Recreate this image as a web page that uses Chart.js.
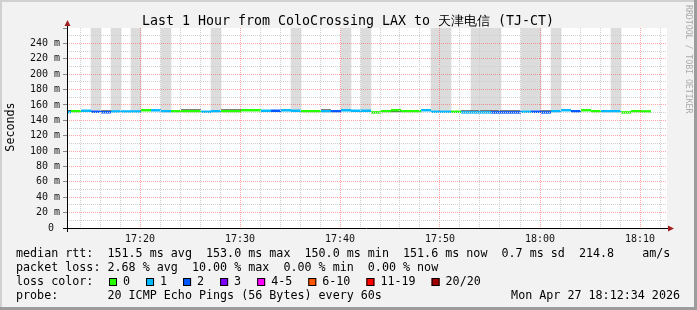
<!DOCTYPE html>
<html lang="en">
<head>
    <meta charset="UTF-8">
    <title>SmokePing - Last 1 Hour</title>
    <script src="https://cdn.jsdelivr.net/npm/chart.js"></script>
    <style>
        html, body { margin: 0; padding: 0; background: #f2f2f2; }
        .chart-container { width: 697px; height: 310px; }
    </style>
</head>
<body>
<div class="chart-container">
    <canvas id="myChart" width="697" height="310"></canvas>
</div>
<script>
    // one slot per probe round (60 s), x values are minutes after 17:00
    const firstSlot = 12.1;
    const xMin = 12.7, xMax = 72.7;

    // loss bucket index per slot (0 = 0/20, 1 = 1/20, 2 = 2/20)
    const lossLevel = [1,0,1,2,2,1,1,1,0,1, 1,0,0,0,1,1,0,0,0,0,
                       1,2,1,1,0,0,1,2,1,1, 1,0,0,0,0,0,1,1,1,0,
                       1,1,1,2,2,2,1,2,2,1, 1,2,0,0,1,1,0,0,0];
    // median rtt per slot, ms
    const medianMs = [150.7,151.8,152.4,151.1,150.5,151.5,151.5,151.5,153.1,153.0,
                      151.8,151.8,151.8,151.8,151.1,151.8,151.8,151.8,153.1,153.1,
                      152.4,152.4,153.0,152.4,151.8,151.8,151.8,151.8,153.0,152.4,
                      152.4,150.3,151.8,153.1,151.8,151.8,153.1,151.1,151.1,151.1,
                      150.3,150.3,150.3,150.3,150.3,150.3,151.1,151.1,150.3,151.8,
                      153.1,151.8,153.1,151.8,151.8,151.8,150.3,151.8,151.6];
    // slowest ping per slot where the smoke runs off the top (ms), else null
    const smokeMaxMs = [null,null,null,300,null,300,null,300,null,null,
                        300,null,null,null,null,300,null,null,null,null,
                        null,null,null,300,null,null,null,null,300,null,
                        300,null,null,null,null,null,null,300,300,null,
                        null,300,300,300,null,null,300,300,null,300,
                        null,null,null,null,null,300,null,null,null];
    // dense smoke band next to the median (ms), else null
    const denseMs = [152.6,null,null,null,152.4,null,null,null,null,null,
                     null,null,153.7,153.7,null,null,153.7,153.7,null,null,
                     null,null,null,null,null,null,153.7,null,null,null,
                     null,null,null,151.2,null,null,null,null,null,null,
                     152.2,152.2,152.2,152.2,152.2,152.2,null,null,152.2,null,
                     null,null,null,null,null,null,null,null,null];

    const lossLabels = ['0', '1', '2', '3', '4-5', '6-10', '11-19', '20/20'];
    const lossColors = ['#26ff00', '#00b8ff', '#0059ff', '#7e00ff', '#ff00fe', '#ff5500', '#ff0000', '#a10000'];

    const titleText = 'Last 1 Hour from ColoCrossing LAX to 天津电信 (TJ-CT)';
    const legendRows = [
        'median rtt:  151.5 ms avg  153.0 ms max  150.0 ms min  151.6 ms now  0.7 ms sd  214.8    am/s',
        'packet loss: 2.68 % avg  10.00 % max  0.00 % min  0.00 % now',
        'loss color:',
        'probe:       20 ICMP Echo Pings (56 Bytes) every 60s'
    ];
    const dateText = 'Mon Apr 27 18:12:34 2026';

    const mono = "'DejaVu Sans Mono', monospace";
    const majorGrid = 'rgba(255,0,0,0.35)';
    const minorGrid = '#cfcfcf';

    function slotSegments(values) {
        const pts = [];
        values.forEach((v, i) => {
            if (v === null) return;
            const t = firstSlot + i;
            pts.push({x: t, y: v}, {x: t + 1, y: v}, {x: t + 1, y: null});
        });
        return pts;
    }

    function fmtTime(m) {
        const h = 17 + Math.floor(m / 60);
        const mm = m % 60;
        return h + ':' + (mm < 10 ? '0' : '') + mm;
    }

    const smokeBars = smokeMaxMs
        .map((v, i) => v === null ? null : {x: firstSlot + i + 0.5, y: [medianMs[i], v]})
        .filter(Boolean);

    const frame = {
        id: 'frame',
        beforeDraw(chart) {
            const {ctx, chartArea: a} = chart;
            ctx.save();
            ctx.fillStyle = '#f2f2f2';
            ctx.fillRect(0, 0, chart.width, chart.height);
            ctx.fillStyle = '#ffffff';
            ctx.fillRect(a.left, a.top, a.right - a.left, a.bottom - a.top);
            ctx.restore();
        },
        afterDraw(chart) {
            const {ctx, chartArea: a} = chart;
            const W = chart.width, H = chart.height;
            ctx.save();
            // outer frame
            ctx.fillStyle = '#d0d0d0';
            ctx.fillRect(0, 0, W, 2);
            ctx.fillRect(0, 0, 2, H);
            ctx.fillStyle = '#9c9c9c';
            ctx.fillRect(0, H - 3, W, 3);
            ctx.fillRect(W - 3, 0, 3, H);

            // axes with arrows
            ctx.strokeStyle = '#000';
            ctx.lineWidth = 1;
            ctx.beginPath();
            ctx.moveTo(a.left - 4, a.bottom + 0.5);
            ctx.lineTo(a.right + 3, a.bottom + 0.5);
            ctx.moveTo(a.left + 0.5, a.bottom + 4);
            ctx.lineTo(a.left + 0.5, a.top - 4);
            ctx.stroke();
            ctx.fillStyle = '#a02020';
            ctx.beginPath();
            ctx.moveTo(a.left + 0.5, a.top - 8);
            ctx.lineTo(a.left - 2.5, a.top - 2);
            ctx.lineTo(a.left + 3.5, a.top - 2);
            ctx.fill();
            ctx.beginPath();
            ctx.moveTo(a.right + 7, a.bottom + 0.5);
            ctx.lineTo(a.right + 1, a.bottom - 2.5);
            ctx.lineTo(a.right + 1, a.bottom + 3.5);
            ctx.fill();

            // title
            ctx.fillStyle = '#000';
            ctx.font = '13.3px ' + mono;
            ctx.textAlign = 'center';
            ctx.textBaseline = 'alphabetic';
            ctx.fillText(titleText, 348, 25);

            // y axis title
            ctx.font = '11.7px ' + mono;
            ctx.save();
            ctx.translate(11, 127);
            ctx.rotate(-Math.PI / 2);
            ctx.textAlign = 'center';
            ctx.textBaseline = 'middle';
            ctx.fillText('Seconds', 0, 0);
            ctx.restore();

            // rrdtool credit
            ctx.save();
            ctx.translate(688, 5);
            ctx.rotate(Math.PI / 2);
            ctx.font = '8.2px ' + mono;
            ctx.fillStyle = '#ababab';
            ctx.textAlign = 'left';
            ctx.textBaseline = 'middle';
            ctx.fillText('RRDTOOL / TOBI OETIKER', 0, 0);
            ctx.restore();

            // legend rows
            ctx.font = '11.7px ' + mono;
            ctx.textAlign = 'left';
            ctx.textBaseline = 'middle';
            const rowY = [254, 268, 282, 296];
            legendRows.forEach((row, i) => ctx.fillText(row, 16, rowY[i]));
            ctx.textAlign = 'right';
            ctx.fillText(dateText, 680, rowY[3]);

            // loss colour boxes
            ctx.textAlign = 'left';
            const cw = ctx.measureText('0').width;
            let x = 109;
            lossLabels.forEach((lab, i) => {
                ctx.fillStyle = lossColors[i];
                ctx.fillRect(x, rowY[2] - 4, 8, 8);
                ctx.strokeStyle = '#000';
                ctx.strokeRect(x + 0.5, rowY[2] - 3.5, 7, 7);
                ctx.fillStyle = '#000';
                ctx.fillText(lab, x + 14, rowY[2]);
                x = x + 14 + lab.length * cw + 16;
            });
            ctx.restore();
        }
    };

    Chart.defaults.font.family = mono;
    Chart.defaults.color = '#111';

    const ctx = document.getElementById('myChart').getContext('2d');
    window.smokeChart = new Chart(ctx, {
        type: 'bar',
        data: {
            datasets: [
                {
                    type: 'line',
                    label: 'median rtt',
                    data: slotSegments(medianMs),
                    borderWidth: 2.5,
                    pointRadius: 0,
                    spanGaps: false,
                    segment: {
                        borderColor: c => lossColors[lossLevel[Math.floor(c.p0DataIndex / 3)]]
                    },
                    order: 0
                },
                {
                    type: 'line',
                    label: 'dense smoke',
                    data: slotSegments(denseMs),
                    borderColor: '#555555',
                    borderWidth: 1.2,
                    pointRadius: 0,
                    spanGaps: false,
                    order: 1
                },
                {
                    type: 'bar',
                    label: 'smoke',
                    data: smokeBars,
                    backgroundColor: '#dcdcdc',
                    borderWidth: 0,
                    barPercentage: 1,
                    categoryPercentage: 1,
                    grouped: false,
                    order: 2
                }
            ]
        },
        options: {
            responsive: false,
            animation: false,
            layout: { padding: { top: 28, right: 30, left: 0, bottom: 0 } },
            plugins: { legend: { display: false }, tooltip: { enabled: false } },
            scales: {
                x: {
                    type: 'linear',
                    min: xMin,
                    max: xMax,
                    offset: false,
                    afterBuildTicks: s => {
                        const t = [];
                        for (let m = 14; m <= 72; m += 2) t.push({value: m});
                        s.ticks = t;
                    },
                    afterFit: s => { s.height = 82; },
                    grid: {
                        offset: false,
                        z: 1,
                        drawTicks: false,
                        color: c => (c.tick && c.tick.value % 10 === 0) ? majorGrid : minorGrid
                    },
                    border: { display: false, dash: [1, 1] },
                    ticks: {
                        autoSkip: false,
                        maxRotation: 0,
                        padding: 5,
                        font: { size: 10 },
                        callback: v => v % 10 === 0 ? fmtTime(v) : ''
                    }
                },
                y: {
                    min: 0,
                    max: 260,
                    afterBuildTicks: s => {
                        const t = [];
                        for (let v = 0; v <= 260; v += 10) t.push({value: v});
                        s.ticks = t;
                    },
                    afterFit: s => { s.width = 67; },
                    grid: {
                        z: 1,
                        tickLength: 4,
                        color: c => {
                            const v = c.tick ? c.tick.value : 0;
                            if (v === 260 || v === 0) return 'rgba(0,0,0,0)';
                            return v % 20 === 0 ? majorGrid : minorGrid;
                        },
                        tickColor: c => (c.tick && c.tick.value % 20 === 0) ? '#888' : 'rgba(0,0,0,0)'
                    },
                    border: { display: false, dash: [1, 1] },
                    ticks: {
                        autoSkip: false,
                        padding: 3,
                        font: { size: 10 },
                        callback: v => v === 0 ? '0 ' : (v % 20 === 0 && v < 260 ? v + ' m' : '')
                    }
                }
            }
        },
        plugins: [frame]
    });
</script>
</body>
</html>
